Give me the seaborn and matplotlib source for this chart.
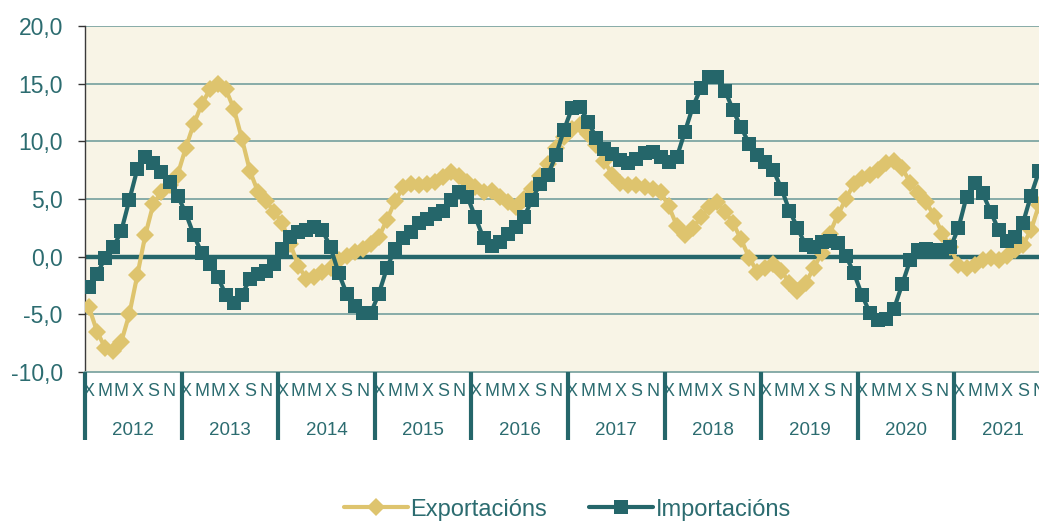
import numpy as np
import pandas as pd
import matplotlib
matplotlib.use("Agg")
import matplotlib.pyplot as plt
import matplotlib.transforms as mtransforms
import seaborn as sns

# monthly year-on-year rates, Jan 2012 .. Nov 2021 (chart is cut at the right edge)
years = [str(y) for y in range(2012, 2022)]
month_letters = ["X", "M", "M", "X", "S", "N"]

exportacions = [
    -4.4, -6.5, -7.9, -8.2, -7.4, -5.0, -1.6, 1.9, 4.6, 5.6, 6.2, 7.1,      # 2012
    9.4, 11.5, 13.2, 14.5, 15.0, 14.5, 12.8, 10.2, 7.4, 5.6, 4.8, 3.9,      # 2013
    2.9, 1.1, -0.8, -1.9, -1.8, -1.3, -1.0, -0.3, 0.1, 0.4, 0.7, 1.1,       # 2014
    1.7, 3.2, 4.8, 6.0, 6.3, 6.2, 6.3, 6.5, 6.9, 7.3, 7.0, 6.5,             # 2015
    6.0, 5.6, 5.7, 5.2, 4.7, 4.3, 5.0, 5.9, 7.0, 8.0, 9.4, 10.4,            # 2016
    11.1, 11.4, 10.6, 9.7, 8.3, 7.1, 6.4, 6.2, 6.2, 6.0, 5.9, 5.6,          # 2017
    4.4, 2.7, 1.9, 2.5, 3.4, 4.3, 4.7, 3.9, 2.9, 1.5, -0.1, -1.3,           # 2018
    -1.0, -0.6, -1.2, -2.3, -3.0, -2.3, -1.0, 0.3, 2.0, 3.6, 5.0, 6.3,      # 2019
    6.8, 7.1, 7.5, 8.1, 8.3, 7.7, 6.4, 5.5, 4.7, 3.5, 2.0, 0.8,             # 2020
    -0.7, -1.0, -0.7, -0.3, -0.1, -0.3, 0.1, 0.6, 1.0, 2.3, 4.5,            # 2021
]
importacions = [
    -2.6, -1.5, -0.1, 0.8, 2.2, 4.9, 7.6, 8.6, 8.1, 7.3, 6.5, 5.3,          # 2012
    3.8, 1.9, 0.3, -0.6, -1.8, -3.3, -4.0, -3.3, -1.9, -1.5, -1.2, -0.6,    # 2013
    0.7, 1.7, 2.1, 2.3, 2.6, 2.3, 0.8, -1.4, -3.2, -4.3, -4.9, -4.9,        # 2014
    -3.2, -1.0, 0.7, 1.6, 2.1, 2.9, 3.3, 3.7, 4.0, 4.9, 5.6, 5.2,           # 2015
    3.4, 1.6, 0.9, 1.3, 2.0, 2.6, 3.4, 4.9, 6.3, 7.1, 8.8, 11.0,            # 2016
    12.9, 13.0, 11.7, 10.3, 9.3, 8.9, 8.4, 8.1, 8.5, 9.0, 9.1, 8.6,         # 2017
    8.2, 8.6, 10.8, 13.0, 14.6, 15.6, 15.6, 14.4, 12.7, 11.2, 9.8, 8.8,     # 2018
    8.2, 7.5, 5.9, 4.0, 2.5, 1.0, 0.8, 1.3, 1.4, 1.2, 0.1, -1.4,            # 2019
    -3.3, -4.9, -5.5, -5.4, -4.5, -2.4, -0.3, 0.6, 0.7, 0.6, 0.6, 0.8,      # 2020
    2.5, 5.2, 6.4, 5.5, 3.9, 2.3, 1.4, 1.7, 2.9, 5.3, 7.4,                  # 2021
]

TEXT = "#2C6C70"
EXP_COLOR = "#DEC46E"
IMP_COLOR = "#25666A"
GRID = "#7FA6A3"

sns.set_style("white")
plt.rcParams["font.family"] = ["Liberation Sans", "DejaVu Sans"]

df = pd.DataFrame({
    "mes": np.arange(len(exportacions)) + 0.5,
    "Exportacións": exportacions,
    "Importacións": importacions,
})

fig = plt.figure(figsize=(10.39, 5.21), dpi=100)
ax = fig.add_axes([85 / 1039, 1 - 372 / 521, 1 - 85 / 1039, 346 / 521])
ax.set_facecolor("#F8F4E6")

for v in [-5, 5, 10, 15, 20]:
    ax.axhline(v, color=GRID, lw=1.3, zorder=1)
ax.axhline(0, color=IMP_COLOR, lw=3.2, zorder=2)

sns.lineplot(data=df, x="mes", y="Exportacións", ax=ax, color=EXP_COLOR, lw=3,
             marker="D", markersize=9.5, markeredgewidth=0, label="Exportacións", zorder=3)
sns.lineplot(data=df, x="mes", y="Importacións", ax=ax, color=IMP_COLOR, lw=3,
             marker="s", markersize=10, markeredgewidth=0, label="Importacións", zorder=4)

handles, labels = ax.get_legend_handles_labels()
ax.get_legend().remove()

# y axis
ax.set_ylim(-10, 20)
yt = list(range(-10, 25, 5))
ax.set_yticks(yt)
ax.set_yticklabels([f"{v:.1f}".replace(".", ",") for v in yt])
ax.tick_params(axis="y", left=True, length=5, width=1, color="#333333", pad=11,
               labelsize=16.5, labelcolor=TEXT)
ax.set_ylabel("")

# x axis: month letters + years
n_years = len(years)
ax.set_xlim(0, 118.0)
ax.set_xticks([12 * k + 2 * m + 0.5 for k in range(n_years) for m in range(6)])
ax.set_xticklabels(month_letters * n_years)
ax.tick_params(axis="x", bottom=False, length=0, pad=8, labelsize=13, labelcolor=TEXT)
ax.set_xlabel("")

trans = mtransforms.blended_transform_factory(ax.transData, ax.transAxes)
for k, yr in enumerate(years):
    ax.text(12 * k + 6, -0.168, yr, transform=trans, ha="center", va="center",
            fontsize=13.5, color=TEXT)
    ax.plot([12 * k, 12 * k], [0, -0.197], transform=trans, color=IMP_COLOR, lw=3,
            clip_on=False, solid_capstyle="butt", zorder=5)

for s in ["top", "right"]:
    ax.spines[s].set_visible(False)
ax.spines["left"].set_color("#3a3a3a")
ax.spines["left"].set_linewidth(1)
ax.spines["bottom"].set_color(GRID)
ax.spines["bottom"].set_linewidth(1.3)

fig.legend(handles, labels, loc="center", bbox_to_anchor=(0.546, 0.022), ncol=2,
           frameon=False, fontsize=17, handlelength=2.7, handletextpad=0.1,
           columnspacing=1.8, labelcolor=TEXT)

fig.savefig("out.png", dpi=100)
